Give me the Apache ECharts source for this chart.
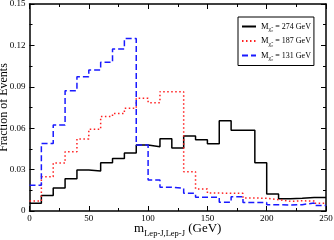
<!DOCTYPE html>
<html><head><meta charset="utf-8">
<script src="https://cdn.jsdelivr.net/npm/echarts@6/dist/echarts.min.js"></script>
<style>html,body{margin:0;padding:0;background:#fff}#c{width:334px;height:240px}</style>
</head><body><div id="c"></div>
<script>
const binEdges = [0,10,20,30,40,50,60,70,80,90,100,110,120,130,140,150,160,170,180,190,200,210,220,230,240,250];
const m274 = [0.0056,0.0113,0.0166,0.0234,0.0297,0.0290,0.0350,0.0380,0.0420,0.0478,0.0466,0.0524,0.0457,0.0543,0.0516,0.0488,0.0654,0.0585,0.0585,0.0350,0.0124,0.0088,0.0092,0.0098,0.0098];
const m187 = [0.0072,0.0248,0.0348,0.0430,0.0522,0.0592,0.0685,0.0706,0.0744,0.0817,0.0785,0.0865,0.0865,0.0285,0.0160,0.0130,0.0128,0.0128,0.0094,0.0092,0.0082,0.0070,0.0074,0.0072,0.0056];
const m131 = [0.0186,0.0490,0.0623,0.0872,0.0973,0.1022,0.1077,0.1174,0.1250,0.0478,0.0225,0.0172,0.0164,0.0128,0.0100,0.0100,0.0063,0.0104,0.0061,0.0061,0.0046,0.0043,0.0046,0.0058,0.0040];
const massLabels = ['274','187','131'];
const yTicks = [0,0.03,0.06,0.09,0.12,0.15];

function stepData(v){
  const d = v.map((y,i)=>[binEdges[i], y]);
  d.push([binEdges[binEdges.length-1], v[v.length-1]]);
  return d;
}
const F = 'Liberation Serif';
const chart = echarts.init(document.getElementById('c'), null, {renderer:'canvas'});
const axisCommon = {
  axisLine:{show:true,onZero:false,lineStyle:{color:'#000',width:1.5}},
  axisTick:{show:true,inside:true,length:5,lineStyle:{color:'#000',width:1}},
  minorTick:{show:true,splitNumber:2,length:3,lineStyle:{color:'#000',width:1}},
  splitLine:{show:false}
};
function mk(name, data, color, type){
  return {name:name,type:'line',step:'end',data:stepData(data),symbol:'none',
    lineStyle:{color:color,width:1.5,type:type},itemStyle:{color:color},
    xAxisIndex:0,yAxisIndex:0,animation:false,silent:true};
}
chart.setOption({
  animation:false,
  textStyle:{fontFamily:F},
  grid:{left:29.5,right:8,top:4,bottom:29,containLabel:false,outerBoundsMode:'none'},
  xAxis:[
    Object.assign({type:'value',min:0,max:250,interval:50,position:'bottom',
      axisLabel:{color:'#000',fontFamily:F,fontSize:9,margin:3},
      name:'{m|m}{s|Lep-J,Lep-J}{m| (GeV)}',nameLocation:'middle',nameGap:9,nameMoveOverlap:false,
      nameTextStyle:{verticalAlign:'top',rich:{m:{fontFamily:F,fontSize:13,color:'#000'},s:{fontFamily:F,fontSize:8.5,color:'#000',padding:[9,0,0,0]}}}
    },axisCommon),
    Object.assign({type:'value',min:0,max:250,interval:50,position:'top',axisLabel:{show:false}},axisCommon)
  ],
  yAxis:[
    Object.assign({type:'value',min:0,max:0.15,interval:0.03,position:'left',
      axisLabel:{color:'#000',fontFamily:F,fontSize:9,margin:4,formatter:v=>String(+v.toFixed(2))},
      name:'Fraction of Events',nameLocation:'middle',nameGap:20,nameRotate:90,nameMoveOverlap:false,
      nameTextStyle:{fontFamily:F,fontSize:12,color:'#000'}
    },axisCommon),
    Object.assign({type:'value',min:0,max:0.15,interval:0.03,position:'right',axisLabel:{show:false}},axisCommon)
  ],
  legend:{
    left:238,top:17,orient:'vertical',itemWidth:14,itemHeight:8,itemGap:4,
    padding:[5,3,4,3],borderColor:'#000',borderWidth:1,backgroundColor:'#fff',
    data:massLabels,
    itemStyle:{opacity:0},
    formatter:n=>'{m|M}{s|χ̃₀}{t| = '+n+' GeV}',
    textStyle:{fontFamily:F,color:'#000',rich:{
      m:{fontFamily:F,fontSize:8.5,color:'#000'},
      s:{fontFamily:F,fontSize:6,color:'#000',padding:[6,0,0,0]},
      t:{fontFamily:F,fontSize:8,color:'#000'}}}
  },
  series:[
    mk('274',m274,'#000000','solid'),
    mk('187',m187,'#ff2020',[1.5,2.5]),
    mk('131',m131,'#1a1aff',[6,3])
  ]
});
</script></body></html>
